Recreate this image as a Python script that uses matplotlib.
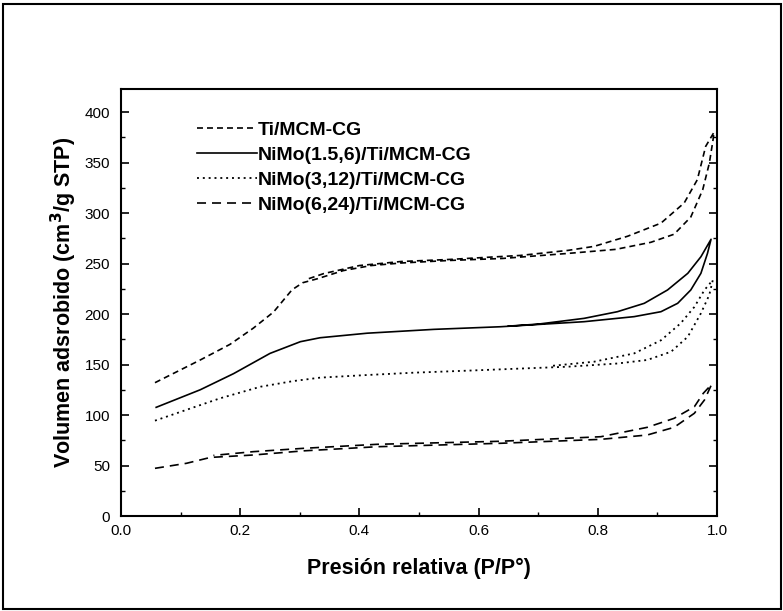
import matplotlib
matplotlib.use("Agg")
import matplotlib.pyplot as plt
from matplotlib.patches import Rectangle
from matplotlib.ticker import MultipleLocator

plt.rcParams['font.family'] = ['Liberation Sans', 'DejaVu Sans']
plt.rcParams['lines.scale_dashes'] = False

# ---- data ----
labels = ["Ti/MCM-CG", "NiMo(1.5,6)/Ti/MCM-CG", "NiMo(3,12)/Ti/MCM-CG", "NiMo(6,24)/Ti/MCM-CG"]

ti_ads_x = [0.057, 0.133, 0.183, 0.222, 0.256, 0.287, 0.305, 0.33, 0.373, 0.42, 0.47, 0.55, 0.64, 0.75, 0.83, 0.889, 0.928, 0.956, 0.976, 0.987, 0.993]
ti_ads_y = [132, 154.5, 170, 186, 202, 224, 231, 235, 243, 248, 250.5, 253, 255, 260, 264, 271, 279, 296, 323, 349, 371]
ti_des_x = [0.995, 0.981, 0.967, 0.945, 0.906, 0.85, 0.794, 0.75, 0.67, 0.55, 0.47, 0.40, 0.34, 0.31]
ti_des_y = [380, 366, 333, 310, 290, 277, 267, 263, 258, 254, 252, 248, 240, 234]

n15_ads_x = [0.059, 0.133, 0.189, 0.25, 0.301, 0.334, 0.413, 0.525, 0.637, 0.777, 0.861, 0.906, 0.934, 0.956, 0.973, 0.984, 0.99]
n15_ads_y = [107.6, 125, 141, 161, 172.6, 176.5, 181, 184.8, 187.4, 192.4, 197.4, 202.3, 210.6, 223.8, 240.3, 260, 274]
n15_des_x = [0.99, 0.973, 0.951, 0.917, 0.878, 0.833, 0.777, 0.70, 0.65]
n15_des_y = [274, 256.7, 240.3, 223.8, 210.6, 202.3, 195.7, 190, 188]

n3_ads_x = [0.057, 0.124, 0.166, 0.234, 0.289, 0.334, 0.413, 0.491, 0.581, 0.671, 0.749, 0.833, 0.883, 0.923, 0.951, 0.973, 0.987, 0.993]
n3_ads_y = [94.4, 108, 116.5, 128, 133.6, 137, 139.6, 141.9, 143.9, 146, 147.8, 151, 154.5, 162.7, 177.5, 200.7, 218.8, 233.7]
n3_des_x = [0.993, 0.979, 0.962, 0.939, 0.906, 0.861, 0.794, 0.72]
n3_des_y = [233.7, 223.8, 207, 190.8, 174, 161, 152.8, 148.5]

n6_ads_x = [0.057, 0.11, 0.15, 0.222, 0.306, 0.43, 0.637, 0.805, 0.883, 0.928, 0.962, 0.979, 0.991]
n6_ads_y = [47.2, 52.2, 58, 60.4, 64.5, 68.6, 72, 75.9, 80.2, 87.8, 101.7, 114.9, 130.4]
n6_des_x = [0.991, 0.977, 0.962, 0.928, 0.883, 0.805, 0.637, 0.43, 0.306, 0.222, 0.155]
n6_des_y = [130.4, 121.5, 108.2, 96.7, 87.8, 78.5, 74, 71, 67, 63.7, 60]

x_ticks = [0.0, 0.2, 0.4, 0.6, 0.8, 1.0]
y_ticks = [0, 50, 100, 150, 200, 250, 300, 350, 400]

# ---- figure ----
W, H = 783, 611
fig = plt.figure(figsize=(W / 100, H / 100), dpi=100)
fig.patches.append(Rectangle((3 / W, 2 / H), 778 / W, 605 / H, transform=fig.transFigure,
                             fill=False, edgecolor='black', linewidth=1.5))

ax = fig.add_axes([121 / W, (H - 516) / H, 596 / W, 427 / H])

styles = [
    dict(linestyle=(0, (4.3, 2.9)), linewidth=1.2),
    dict(linestyle='-', linewidth=1.2),
    dict(linestyle=(0, (1.4, 2.8)), linewidth=1.3),
    dict(linestyle=(0, (6.5, 4.3)), linewidth=1.2),
]
series = [
    (ti_ads_x, ti_ads_y, ti_des_x, ti_des_y),
    (n15_ads_x, n15_ads_y, n15_des_x, n15_des_y),
    (n3_ads_x, n3_ads_y, n3_des_x, n3_des_y),
    (n6_ads_x, n6_ads_y, n6_des_x, n6_des_y),
]
for (ax_, ay_, dx_, dy_), st, lab in zip(series, styles, labels):
    ax.plot(list(ax_) + list(dx_), list(ay_) + list(dy_), color='black',
            label=lab, **st)

ax.set_xlim(0, 1.0)
ax.set_ylim(0, 422.8)
ax.set_xticks(x_ticks)
ax.set_xticklabels([f"{v:.1f}" for v in x_ticks])
ax.set_yticks(y_ticks)
ax.xaxis.set_minor_locator(MultipleLocator(0.1))
ax.yaxis.set_minor_locator(MultipleLocator(25))
ax.tick_params(which='major', direction='in', length=6, width=1.2, labelsize=11,
               right=True, top=False, pad=6)
ax.tick_params(which='minor', direction='in', length=3, width=1.0, right=True, top=False)
ax.tick_params(axis='y', which='major', pad=8)
for s in ax.spines.values():
    s.set_linewidth(1.5)

ax.set_xlabel("Presión relativa (P/P°)", fontsize=15.5, fontweight='bold', labelpad=14)
ax.set_ylabel("Volumen adsrobido (cm$^\\mathbf{3}$/g STP)", fontsize=15.5, fontweight='bold', labelpad=4)

leg = ax.legend(loc='upper left', bbox_to_anchor=(0.1275, 0.925), frameon=False,
                prop={'size': 14, 'weight': 'bold'}, handlelength=3.1, handletextpad=0.05,
                labelspacing=0.38, borderpad=0, borderaxespad=0)

fig.savefig("out.png", dpi=100)
